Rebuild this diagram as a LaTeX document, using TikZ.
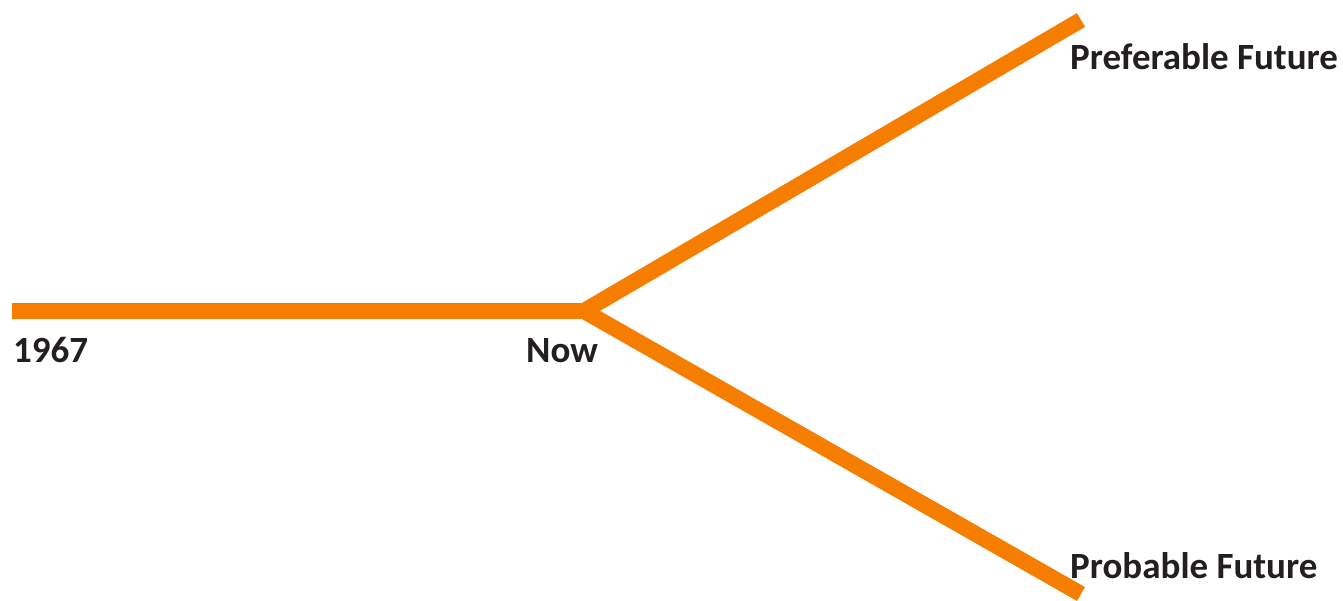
\documentclass[tikz,border=0pt]{standalone}
\usepackage{fontspec}
\setmainfont{Carlito}
\usetikzlibrary{positioning}
\definecolor{lineorange}{RGB}{245,125,0}
\definecolor{textgray}{RGB}{35,31,32}
\tikzset{
  timeline/.style={line width=16pt, draw=lineorange},
  tag/.style={inner sep=0pt, anchor=base west, text=textgray,
    font=\fontsize{37}{40}\selectfont\bfseries}
}
\begin{document}
\begin{tikzpicture}[x=1pt, y=-1pt]
    \useasboundingbox (0,0) rectangle (1343,601);

    % Points on the timeline
    \coordinate (past) at (12,311);
    \coordinate (now) at (584,311);
    \coordinate (pref) at (1081,20);
    \coordinate (prob) at (1081,594);

    % Past to now, then two futures
    \draw[timeline] (past) -- (now);
    \draw[timeline] (now) -- (pref);
    \draw[timeline] (now) -- (prob);

    % Labels
    \node[tag] (yearlbl) at (13,362) {1967};
    \node[tag] (nowlbl) at (526,362) {Now};
    \node[tag] (preflbl) at (1070,70) {Preferable Future};
    \node[tag] (problbl) at (1070,578) {Probable Future};
\end{tikzpicture}
\end{document}
